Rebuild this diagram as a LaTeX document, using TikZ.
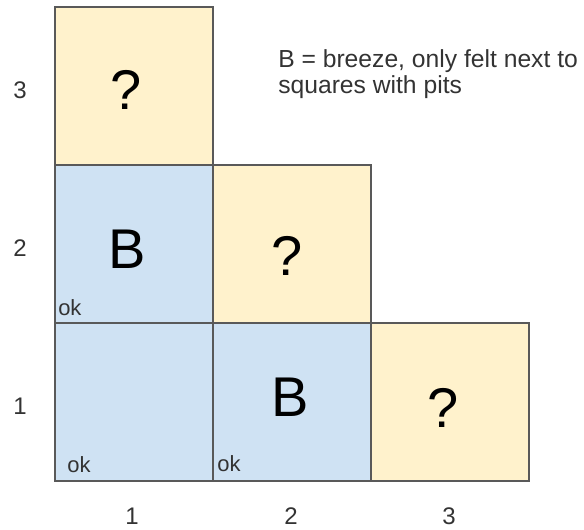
\documentclass[tikz,border=0pt]{standalone}
\usepackage{fontspec}
\setmainfont{Liberation Sans}
\usetikzlibrary{positioning}
\definecolor{pitfill}{HTML}{FFF2CC}
\definecolor{okfill}{HTML}{CFE2F3}
\definecolor{gridline}{HTML}{595959}
\definecolor{labeltext}{HTML}{333333}

\begin{document}
\begin{tikzpicture}[
  x=0.75pt, y=-0.75pt,
  cell/.style={draw=gridline, line width=1.1pt, minimum size=118.5pt,
               inner sep=0pt, outer sep=0pt},
  unknown/.style={cell, fill=pitfill},
  safe/.style={cell, fill=okfill},
  big/.style={font=\fontsize{42}{42}\selectfont, inner sep=0pt},
  okmark/.style={font=\fontsize{16.5}{16.5}\selectfont, text=labeltext,
                 anchor=base west, inner sep=0pt},
  axis/.style={font=\fontsize{18}{18}\selectfont, text=labeltext, inner sep=0pt},
  note/.style={font=\fontsize{18.5}{19}\selectfont, text=labeltext,
               align=left, anchor=base west, inner sep=0pt}
]
\useasboundingbox (0,0) rectangle (584,529);
\node[unknown] (c13) at (134,86) {};
\node[safe, below=0pt of c13] (c12) {};
\node[safe, below=0pt of c12] (c11) {};
\node[unknown, right=0pt of c12] (c22) {};
\node[safe, right=0pt of c11] (c21) {};
\node[unknown, right=0pt of c21] (c31) {};
\node[big] (q13) at (126,90) {?};
\node[big] (b12) at (127,249) {B};
\node[big] (q22) at (287,256) {?};
\node[big] (b21) at (290,397) {B};
\node[big] (q31) at (443,408) {?};
\node[okmark] (ok12) at (58,315) {ok};
\node[okmark] (ok11) at (67,472) {ok};
\node[okmark] (ok21) at (217,471) {ok};
\node[axis] (row3) at (20,90) {3};
\node[axis] (row2) at (20,248) {2};
\node[axis] (row1) at (20,406) {1};
\node[axis] (col1) at (132,516) {1};
\node[axis] (col2) at (291,516) {2};
\node[axis] (col3) at (449,516) {3};
\node[note] (key) at (278,93) {B = breeze, only felt next to\\ squares with pits};
\end{tikzpicture}
\end{document}
